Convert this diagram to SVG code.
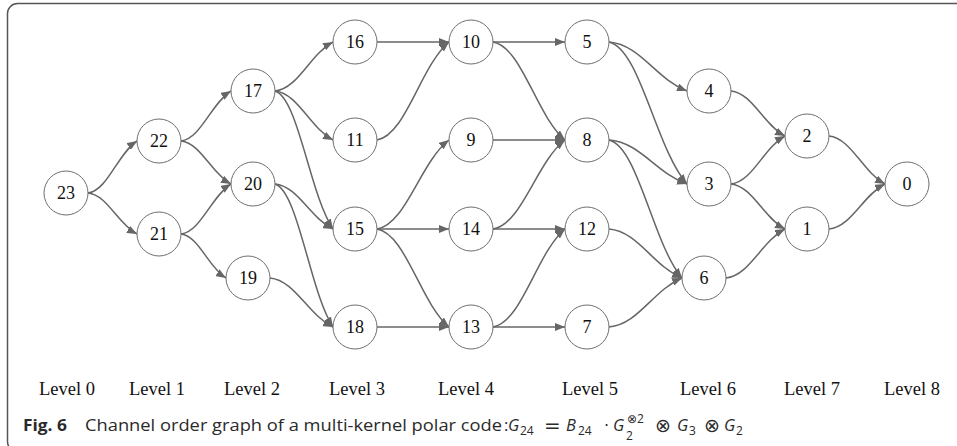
<svg xmlns="http://www.w3.org/2000/svg" width="957" height="446" viewBox="0 0 957 446">
<style>
.node circle{fill:#fff;stroke:#6e6e6e;stroke-width:1}
.node text{font-family:"Liberation Serif","Times New Roman",serif;font-size:18px;fill:#111;text-anchor:middle}
.edges path{fill:none;stroke:#666;stroke-width:1.5;marker-end:url(#arr)}
.lvl{font-family:"Liberation Serif","Times New Roman",serif;font-size:18.5px;fill:#111;text-anchor:middle}
.cap{font-family:"Open Sans","Noto Sans",sans-serif;font-size:16.5px;fill:#2a2a2a}
.m{font-family:"Open Sans","Noto Sans",sans-serif;font-size:16.5px;fill:#2a2a2a}
.op{font-family:"DejaVu Sans",sans-serif;fill:#2a2a2a}
.mi{font-style:italic}
.sub{font-size:12px}
</style>
<defs>
<marker id="arr" markerUnits="userSpaceOnUse" markerWidth="10" markerHeight="8" refX="10" refY="4" orient="auto">
<path d="M0,0 L10,4 L0,8 z" fill="#666"/>
</marker>
</defs>
<rect x="7.5" y="3.5" width="1000" height="448" rx="10" ry="10" fill="none" stroke="#555" stroke-width="1.5"/>
<g class="edges">
<path d="M88,193 C107.6,190.4 117.4,154 137,141"/>
<path d="M88,193 C107.6,195 117.4,223.8 137,234"/>
<path d="M181,141 C201,138.5 211,103.5 231,91"/>
<path d="M181,141 C201,143.2 211,173.3 231,184"/>
<path d="M181,234 C201,231.5 211,196.5 231,184"/>
<path d="M181,234 C199,236.2 208,267 226,278"/>
<path d="M275,91 C298.2,88.6 309.8,54.3 333,42"/>
<path d="M275,91 C298.2,93.5 309.8,127.8 333,140"/>
<path d="M275,91 C298.2,97.9 309.8,194.5 333,229"/>
<path d="M275,184 C298.2,186.3 309.8,217.8 333,229"/>
<path d="M275,184 C298.2,191.2 309.8,291.3 333,327"/>
<path d="M270,278 C295.2,280.5 307.8,314.8 333,327"/>
<path d="M377,42 L449,42"/>
<path d="M377,140 C405.8,135.1 420.2,66.5 449,42"/>
<path d="M377,229 C405.8,224.6 420.2,162.3 449,140"/>
<path d="M377,229 L449,229"/>
<path d="M377,229 C405.8,233.9 420.2,302.5 449,327"/>
<path d="M377,327 L449,327"/>
<path d="M493,42 L565,42"/>
<path d="M493,42 C521.8,46.9 536.2,115.5 565,140"/>
<path d="M493,140 L565,140"/>
<path d="M493,229 C521.8,224.6 536.2,162.3 565,140"/>
<path d="M493,229 L565,229"/>
<path d="M493,327 C521.8,322.1 536.2,253.5 565,229"/>
<path d="M493,327 L565,327"/>
<path d="M609,42 C640.2,44.5 655.8,78.8 687,91"/>
<path d="M609,42 C640.2,49.1 655.8,148.5 687,184"/>
<path d="M609,140 C640.2,142.2 655.8,173 687,184"/>
<path d="M609,140 C638.2,146.9 652.8,243.5 682,278"/>
<path d="M609,229 C638.2,231.5 652.8,265.8 682,278"/>
<path d="M609,327 C638.2,324.6 652.8,290.3 682,278"/>
<path d="M731,91 C752.6,93.3 763.4,124.8 785,136"/>
<path d="M731,184 C752.6,181.6 763.4,148 785,136"/>
<path d="M731,184 C752.6,186.3 763.4,217.8 785,229"/>
<path d="M726,278 C749.6,275.6 761.4,241.3 785,229"/>
<path d="M829,136 C851.4,138.4 862.6,172 885,184"/>
<path d="M829,229 C851.4,226.8 862.6,195.3 885,184"/>
</g>
<g id="n23" class="node"><circle cx="66" cy="193" r="22"/><text x="66" y="199">23</text></g>
<g id="n22" class="node"><circle cx="159" cy="141" r="22"/><text x="159" y="147">22</text></g>
<g id="n21" class="node"><circle cx="159" cy="234" r="22"/><text x="159" y="240">21</text></g>
<g id="n17" class="node"><circle cx="253" cy="91" r="22"/><text x="253" y="97">17</text></g>
<g id="n20" class="node"><circle cx="253" cy="184" r="22"/><text x="253" y="190">20</text></g>
<g id="n19" class="node"><circle cx="248" cy="278" r="22"/><text x="248" y="284">19</text></g>
<g id="n16" class="node"><circle cx="355" cy="42" r="22"/><text x="355" y="48">16</text></g>
<g id="n11" class="node"><circle cx="355" cy="140" r="22"/><text x="355" y="146">11</text></g>
<g id="n15" class="node"><circle cx="355" cy="229" r="22"/><text x="355" y="235">15</text></g>
<g id="n18" class="node"><circle cx="355" cy="327" r="22"/><text x="355" y="333">18</text></g>
<g id="n10" class="node"><circle cx="471" cy="42" r="22"/><text x="471" y="48">10</text></g>
<g id="n9" class="node"><circle cx="471" cy="140" r="22"/><text x="471" y="146">9</text></g>
<g id="n14" class="node"><circle cx="471" cy="229" r="22"/><text x="471" y="235">14</text></g>
<g id="n13" class="node"><circle cx="471" cy="327" r="22"/><text x="471" y="333">13</text></g>
<g id="n5" class="node"><circle cx="587" cy="42" r="22"/><text x="587" y="48">5</text></g>
<g id="n8" class="node"><circle cx="587" cy="140" r="22"/><text x="587" y="146">8</text></g>
<g id="n12" class="node"><circle cx="587" cy="229" r="22"/><text x="587" y="235">12</text></g>
<g id="n7" class="node"><circle cx="587" cy="327" r="22"/><text x="587" y="333">7</text></g>
<g id="n4" class="node"><circle cx="709" cy="91" r="22"/><text x="709" y="97">4</text></g>
<g id="n3" class="node"><circle cx="709" cy="184" r="22"/><text x="709" y="190">3</text></g>
<g id="n6" class="node"><circle cx="704" cy="278" r="22"/><text x="704" y="284">6</text></g>
<g id="n2" class="node"><circle cx="807" cy="136" r="22"/><text x="807" y="142">2</text></g>
<g id="n1" class="node"><circle cx="807" cy="229" r="22"/><text x="807" y="235">1</text></g>
<g id="n0" class="node"><circle cx="907" cy="184" r="22"/><text x="907" y="190">0</text></g>
<g id="levels">
<text class="lvl" x="67" y="395">Level 0</text>
<text class="lvl" x="157" y="395">Level 1</text>
<text class="lvl" x="252" y="395">Level 2</text>
<text class="lvl" x="357" y="395">Level 3</text>
<text class="lvl" x="466" y="395">Level 4</text>
<text class="lvl" x="590" y="395">Level 5</text>
<text class="lvl" x="708" y="395">Level 6</text>
<text class="lvl" x="812" y="395">Level 7</text>
<text class="lvl" x="912" y="395">Level 8</text>
</g>
<g id="caption">
<text class="cap" x="23" y="431" font-weight="bold" textLength="44" lengthAdjust="spacingAndGlyphs">Fig. 6</text>
<text class="cap" x="85" y="431" textLength="417" lengthAdjust="spacingAndGlyphs">Channel order graph of a multi-kernel polar code</text>
<text class="m" x="504" y="431">:</text>
<text class="m mi" x="508" y="431">G</text>
<text class="m sub" x="520" y="435">24</text>
<text class="op" x="544" y="432" style="font-size:20px">=</text>
<text class="m mi" x="566" y="431">B</text>
<text class="m sub" x="578" y="435">24</text>
<text class="op" x="604" y="431" style="font-size:16px">·</text>
<text class="m mi" x="613" y="431">G</text>
<text x="627" y="423"><tspan class="op" style="font-size:12px">⊗</tspan><tspan class="m" style="font-size:12px">2</tspan></text>
<text class="m sub" x="626" y="440">2</text>
<text class="op" x="655" y="432" style="font-size:19px">⊗</text>
<text class="m mi" x="677" y="431">G</text>
<text class="m sub" x="689" y="435">3</text>
<text class="op" x="704" y="432" style="font-size:19px">⊗</text>
<text class="m mi" x="724" y="431">G</text>
<text class="m sub" x="736" y="435">2</text>
</g>
</svg>
